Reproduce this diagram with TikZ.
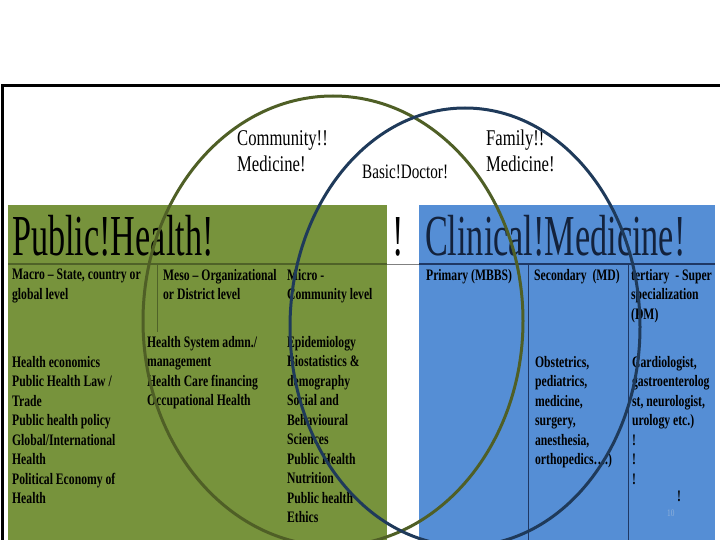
\documentclass[tikz,border=0pt]{standalone}
\usepackage{fontspec}
\setmainfont{Liberation Serif}
\usetikzlibrary{positioning}
\definecolor{phgreen}{HTML}{77933C}
\definecolor{cmblue}{HTML}{558ED5}
\definecolor{ringgreen}{HTML}{4F5F26}
\definecolor{ringblue}{HTML}{1F3A5A}
\definecolor{rulegreen}{HTML}{4F6228}
\definecolor{ruleblue}{HTML}{1F3864}
\definecolor{pageno}{HTML}{8FB0DA}

\begin{document}
\begin{tikzpicture}[x=1pt, y=-1pt,
    title_node/.style={anchor=base west, inner sep=0, xscale=0.59, font=\fontsize{58}{60}\selectfont},
    ring_label/.style={anchor=north west, inner sep=0, align=left, xscale=0.74, font=\fontsize{22.5}{26}\selectfont},
    cell_node/.style={anchor=north west, inner sep=0, align=left, xscale=0.73, font=\bfseries\fontsize{16}{19.5}\selectfont}]
    \useasboundingbox (0,0) rectangle (720,540);
    \clip (0,0) rectangle (720,540);

    % panels
    \fill[phgreen] (8,205) rectangle (387,540);
    \fill[cmblue] (419,205) rectangle (715,540);
    \draw[rulegreen, line width=2] (8,264) -- (387,264);
    \draw[gray, line width=0.6] (387,264) -- (419,264);
    \draw[ruleblue, line width=1.2] (419,264) -- (715,264);
    \draw[rulegreen, line width=1] (157,264) -- (157,332);
    \draw[ruleblue, line width=1] (528,264) -- (528,540);
    \draw[ruleblue, line width=1] (628,264) -- (628,540);

    % headers
    \node[title_node] (ph) at (12,255) {Public!Health!};
    \node[title_node] (gap) at (392,255) {!};
    \node[title_node, text=ruleblue!60!black] (cm) at (425,255) {Clinical!Medicine!};

    % ring labels
    \node[ring_label] (community) at (237,130) {Community!!\\Medicine!};
    \node[ring_label, font=\fontsize{20.5}{24}\selectfont] (basic) at (362,165) {Basic!Doctor!};
    \node[ring_label] (family) at (486,130) {Family!!\\Medicine!};

    % column heads
    \node[cell_node] (macro) at (12,269) {Macro – State, country or\\global level};
    \node[cell_node] (meso) at (163,269) {Meso – Organizational\\or District level};
    \node[cell_node] (micro) at (287,269) {Micro -\\Community level};
    \node[cell_node] (primary) at (426,269) {Primary (MBBS)};
    \node[cell_node] (secondary) at (534,269) {Secondary\ \ (MD)};
    \node[cell_node] (tertiary) at (631,269) {tertiary\ \ - Super\\specialization\\(DM)};

    % column bodies
    \node[cell_node] (macrobody) at (12,356) {Health economics\\Public Health Law /\\Trade\\Public health policy\\Global/International\\Health\\Political Economy of\\Health};
    \node[cell_node] (mesobody) at (147,336) {Health System admn./\\management\\Health Care financing\\Occupational Health};
    \node[cell_node] (microbody) at (287,336) {Epidemiology\\Biostatistics \&\\demography\\Social and\\Behavioural\\Sciences\\Public Health\\Nutrition\\Public health\\Ethics};
    \node[cell_node] (secbody) at (535,356) {Obstetrics,\\pediatrics,\\medicine,\\surgery,\\anesthesia,\\orthopedics….)};
    \node[cell_node] (terbody) at (632,356) {Cardiologist,\\gastroenterolog\\st, neurologist,\\urology etc.)\\!\\!\\!};
    \node[cell_node] (bang) at (677,491) {!};
    \node[cell_node, font=\fontsize{10}{12}\selectfont, text=pageno] (slide) at (667,510) {10};

    % rings
    \draw[ringgreen, line width=3] (333,321) ellipse [x radius=190pt, y radius=225pt];
    \draw[ringblue, line width=3] (465,327) ellipse [x radius=175pt, y radius=219pt];

    % frame
    \draw[line width=3] (2,540) -- (2,86) -- (720,86);
\end{tikzpicture}
\end{document}
